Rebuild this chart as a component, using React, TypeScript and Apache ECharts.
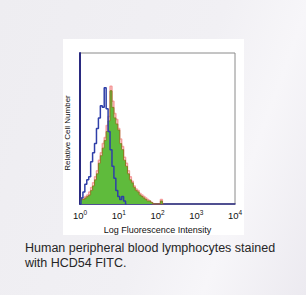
import React, { useEffect, useRef } from "react";
import * as echarts from "echarts";

// Histogram bins in log10 units (bin start 0, step 0.05 decade)
const binStep = 0.05;
const isotypeBlue = [0, 4, 8, 13, 16, 18, 28, 34, 40, 50, 57, 65, 64, 77, 63, 48, 36, 25, 17, 9, 5, 3, 5, 2, 0];
const stainedGreen = [2, 3, 3, 4, 5, 6, 9, 12, 16, 20, 27, 32, 37, 42, 48, 55, 75, 64, 57, 53, 49, 40, 36, 29, 25, 20, 16, 14, 11, 9, 8, 6, 5, 4, 3, 2, 2, 1, 0, 0, 0, 0, 2, 0];
const stainedRed = [3, 4, 4, 5, 6, 8, 11, 14, 18, 22, 29, 34, 40, 44, 52, 58, 78, 68, 60, 56, 50, 43, 38, 31, 27, 22, 18, 15, 12, 10, 9, 7, 6, 5, 4, 3, 2, 1, 0, 0, 0, 0, 3, 0];
const decadeTicks = [0, 1, 2, 3, 4];
const xTitle = "Log Fluorescence Intensity";
const yTitle = "Relative Cell Number";
const captionLines = ["Human peripheral blood lymphocytes stained", "with HCD54 FITC."];

const toPairs = (arr: number[]) => arr.map((v, i) => [+(i * binStep).toFixed(3), v]);

export default function App() {
  const ref = useRef<HTMLDivElement>(null);
  useEffect(() => {
    document.body.style.margin = "0";
    const chart = echarts.init(ref.current!, undefined, { renderer: "svg" });
    const font = "'Liberation Sans', Arial, sans-serif";
    chart.setOption({
      animation: false,
      backgroundColor: "transparent",
      textStyle: { fontFamily: font },
      grid: {
        left: 80,
        right: 71,
        top: 53,
        bottom: 91,
        show: true,
        borderColor: "#8a8a8a",
        borderWidth: 1,
        backgroundColor: "#ffffff",
      },
      xAxis: {
        type: "value",
        min: 0,
        max: 4,
        interval: 1,
        splitLine: { show: false },
        axisTick: { show: false },
        axisLine: { lineStyle: { color: "#2a2a80", width: 1.5 } },
        axisLabel: {
          margin: 5,
          formatter: (v: number) => (decadeTicks.includes(v) ? `{b|10}{s|${v}}` : ""),
          rich: {
            b: { fontSize: 9.5, color: "#111", fontFamily: font },
            s: { fontSize: 6.5, color: "#111", fontFamily: font, padding: [0, 0, 6, 0] },
          },
        },
        name: xTitle,
        nameLocation: "middle",
        nameGap: 21,
        nameTextStyle: { fontSize: 9, color: "#111", fontFamily: font },
      },
      yAxis: {
        type: "value",
        min: 0,
        max: 100,
        splitLine: { show: false },
        axisTick: { show: false },
        axisLabel: { show: false },
        axisLine: { show: true, lineStyle: { color: "#2a2a80", width: 2 } },
        name: yTitle,
        nameLocation: "middle",
        nameGap: 9,
        nameTextStyle: { fontSize: 8, color: "#111", fontFamily: font, padding: [0, 0, 0, -9] },
      },
      series: [
        {
          type: "line",
          step: "middle",
          data: toPairs(stainedRed),
          symbol: "none",
          lineStyle: { color: "rgba(235,70,70,0.5)", width: 1.5 },
          areaStyle: { color: "rgba(245,140,140,0.3)" },
          z: 2,
        },
        {
          type: "line",
          step: "middle",
          data: toPairs(stainedGreen),
          symbol: "none",
          lineStyle: { color: "#8a7a20", width: 1 },
          areaStyle: { color: "#5fbb3c", opacity: 1 },
          z: 3,
        },
        {
          type: "line",
          step: "middle",
          data: toPairs(isotypeBlue),
          symbol: "none",
          lineStyle: { color: "#2f3fa8", width: 1.5 },
          z: 4,
        },
      ],
      graphic: [
        {
          type: "text",
          left: 25,
          top: 240,
          style: {
            text: captionLines.join("\n"),
            font: `12.5px ${font}`,
            fill: "#262626",
            lineHeight: 15,
          },
        },
      ],
    });
    return () => chart.dispose();
  }, []);
  return (
    <div
      style={{
        position: "absolute",
        left: 0,
        top: 0,
        width: 306,
        height: 295,
        background: "linear-gradient(110deg, #eeedf1 0%, #f1f0f4 55%, #f7f6f9 75%, #eceaf0 100%)",
      }}
    >
      <div style={{ position: "absolute", left: 63, top: 39, width: 181, height: 196, background: "#ffffff" }} />
      <div ref={ref} style={{ position: "absolute", left: 0, top: 0, width: 306, height: 295 }} />
    </div>
  );
}
